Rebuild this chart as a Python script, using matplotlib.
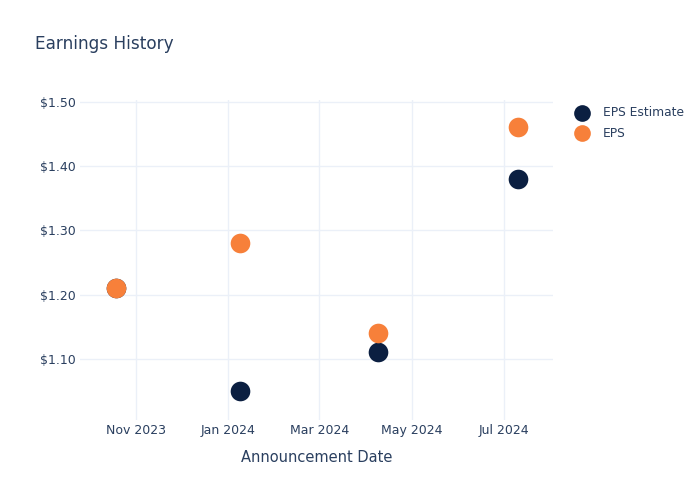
import matplotlib
matplotlib.use('Agg')

import datetime as dt
import matplotlib.pyplot as plt
import matplotlib.dates as mdates
from matplotlib.ticker import FuncFormatter

# Earnings announcements
dates = ['2023-10-19', '2024-01-09', '2024-04-09', '2024-07-10']
eps_estimate = [1.21, 1.05, 1.11, 1.38]
eps_actual = [1.21, 1.28, 1.14, 1.46]

navy = '#0b1f41'
orange = '#f7803a'
text_col = '#2a3f5f'
grid_col = '#ebf0f8'

x = [dt.datetime.strptime(d, '%Y-%m-%d') for d in dates]

fig = plt.figure(figsize=(7, 5), dpi=100)
ax = fig.add_axes([80 / 700, 80 / 500, 473 / 700, 320 / 500])

ax.scatter(x, eps_estimate, s=200, color=navy, label='EPS Estimate', zorder=3, linewidths=0)
ax.scatter(x, eps_actual, s=200, color=orange, label='EPS', zorder=4, linewidths=0)

ax.set_xlim(dt.datetime(2023, 9, 25, 8), dt.datetime(2024, 8, 2))
ax.set_ylim(1.0047, 1.5027)
ax.set_yticks([1.10, 1.20, 1.30, 1.40, 1.50])
ax.yaxis.set_major_formatter(FuncFormatter(lambda v, p: f'${v:.2f}'))
ax.xaxis.set_major_locator(mdates.MonthLocator(bymonth=[1, 3, 5, 7, 9, 11]))
ax.xaxis.set_major_formatter(mdates.DateFormatter('%b %Y'))

ax.grid(True, color=grid_col, linewidth=1)
ax.set_axisbelow(True)
for s in ax.spines.values():
    s.set_visible(False)
ax.tick_params(length=0, labelsize=9, labelcolor=text_col)
ax.tick_params(axis='x', pad=3)
ax.tick_params(axis='y', pad=3)

ax.set_xlabel('Announcement Date', fontsize=10.5, color=text_col, labelpad=9)

fig.text(35 / 700, 1 - 44 / 500, 'Earnings History', fontsize=12.2, color=text_col,
         va='center', ha='left')

ax.legend(loc='upper left', bbox_to_anchor=(575 / 700, 1 - 106 / 500),
          bbox_transform=fig.transFigure, frameon=False, fontsize=8.8,
          labelcolor=text_col, handletextpad=1.1, borderpad=0, borderaxespad=0,
          labelspacing=0.62, markerscale=0.85, handlelength=1.2)

fig.savefig('out.png', dpi=100)
